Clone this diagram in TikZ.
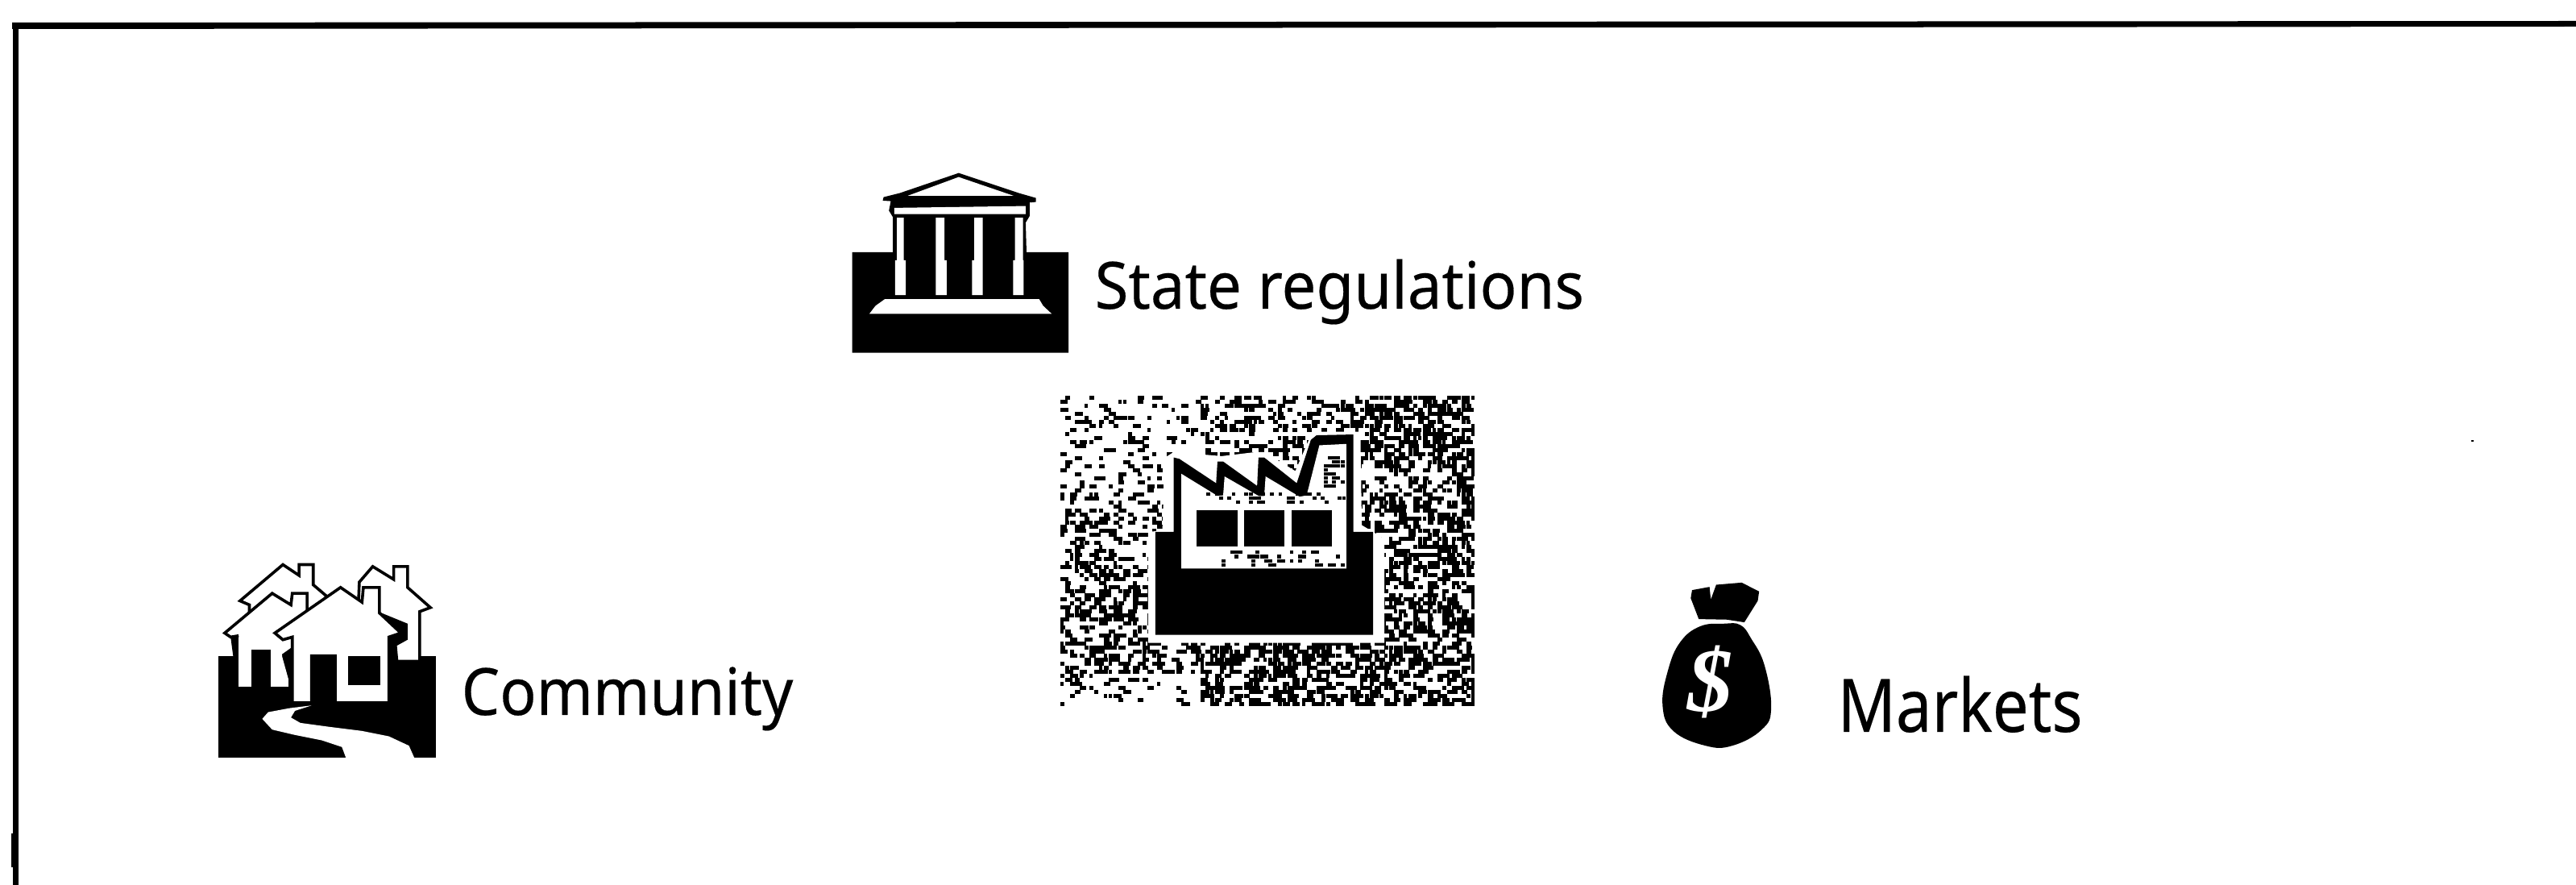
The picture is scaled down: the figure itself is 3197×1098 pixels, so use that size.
\documentclass[tikz,border=0pt]{standalone}
\usepackage{graphicx}
\usepackage{fontspec}
\setmainfont[FakeBold=0.25]{Noto Sans}
\newfontfamily\dollarfont{Liberation Serif}
\tikzset{
  ink/.style={fill=black,draw=none},
  paper/.style={fill=white,draw=none},
  zoomed/.style={x=0.0033333cm,y=-0.0033333cm},
  factoryzoom/.style={x=0.0035075cm,y=-0.0033557cm},
  housewall/.style={fill=white,draw=black,line width=0.036cm,line join=miter},
  label/.style={anchor=base west,inner sep=0pt,text=black}
}
\begin{document}
\begin{tikzpicture}[x=0.01cm,y=-0.01cm]
\useasboundingbox (0,0) rectangle (3197,1098);
\fill[white] (0,0) rectangle (3197,1098);
% frame
\fill[ink] (15,28) -- (3197,26) -- (3197,33) -- (15,36) -- cycle;
\fill[ink] (16,28) rectangle (23,1098);
\fill[ink] (14,1034) rectangle (22,1076);
\fill[ink] (3067,546) rectangle (3070,548);

% temple
\begin{scope}[zoomed,shift={(3060,570)}]
\path[ink] (118,370) -- (270,370) -- (270,240) -- (255,215) -- (262,180) -- (232,178) -- (235,165) -- (295,150) -- (515,75) -- (740,150) -- (803,168) -- (803,183) -- (780,185) -- (780,235) -- (765,260) -- (768,370) -- (925,370) -- (925,745) -- (118,745) -- cycle;
\path[paper] (325,160) -- (515,90) -- (720,160) -- cycle;
\path[paper] (275,205) -- (765,198) -- (765,228) -- (275,228) -- cycle;
\foreach \a/\b/\c/\d in {285/310/278/318,430/462/430/470,573/605/565/605,725/755/718/757}{
  \path[paper] (\a,242) -- (\b,242) -- (\b,400) -- (\d,400) -- (\d,530) -- (\c,530) -- (\c,400) -- (\a,400) -- cycle;
}
\path[paper] (240,545) -- (815,545) -- (830,570) -- (862,600) -- (182,600) -- (205,570) -- cycle;
\end{scope}

% factory noise
\pgfmathsetseed{4242}
\foreach \yy in {0,...,76}{
  \foreach \xx in {0,...,85}{
    \pgfmathsetmacro\px{1316+6*\xx}
    \pgfmathsetmacro\py{491+5*\yy}
    \pgfmathsetmacro\dens{\px<1490 ? (\py<610 ? 0.18 : (\py<700 ? 0.32 : (\py<835 ? 0.45 : 0.14))) : (\px>1700 ? 0.55 : (\py<640 ? 0.42 : 0.58))}
    \pgfmathsetmacro\wd{min(4+rnd*6,1830-\px)}
    \pgfmathparse{rnd<\dens ? 1 : 0}
    \ifnum\pgfmathresult=1
      \fill[ink] (\px,\py) rectangle ++(\wd,4.6);
    \fi
  }
}
\begin{scope}[factoryzoom,shift={(3678,1400)}]
% halo
\path[paper] (380,565) -- (430,560) -- (440,290) -- (470,270) -- (640,285) -- (760,270) -- (790,270) -- (900,340) -- (960,195) -- (1130,195) -- (1135,540) -- (1215,590) -- (1215,975) -- (380,975) -- cycle;
% building
\path[ink] (405,565) -- (470,565) -- (470,290) -- (490,295) -- (620,385) -- (625,305) -- (645,305) -- (765,395) -- (770,290) -- (790,290) -- (905,385) -- (955,225) -- (975,208) -- (1105,205) -- (1105,565) -- (1175,565) -- (1175,945) -- (405,945) -- cycle;
\path[paper] (497,700) -- (497,350) -- (625,432) -- (645,430) -- (650,360) -- (770,432) -- (790,432) -- (795,360) -- (915,435) -- (940,430) -- (985,245) -- (1080,240) -- (1080,700) -- cycle;
\foreach \xa/\xb/\ya/\yb/\dn in {570/1070/420/462/0.3,640/1075/635/690/0.35,1000/1062/285/395/0.6}{
  \pgfmathtruncatemacro\nx{(\xb-\xa)/15}
  \pgfmathtruncatemacro\ny{(\yb-\ya)/15}
  \foreach \i in {0,...,\nx}{
    \foreach \j in {0,...,\ny}{
      \pgfmathparse{rnd<\dn ? 1 : 0}
      \ifnum\pgfmathresult=1
        \fill[ink] ({\xa+15*\i},{\ya+15*\j}) rectangle ++(14,12);
      \fi
    }
  }
}
\path[ink] (552,485) rectangle (695,620);
\path[ink] (720,485) rectangle (862,618);
\path[ink] (888,485) rectangle (1028,620);
\end{scope}

% houses
\begin{scope}[zoomed,shift={(750,2040)}]
\path[ink] (65,405) rectangle (875,785);
\path[housewall] (145,200) -- (305,65) -- (365,105) -- (365,65) -- (418,65) -- (418,140) -- (465,180) -- (465,300) -- (180,300) -- (180,215) -- cycle;
\path[housewall] (590,130) -- (640,72) -- (718,120) -- (718,72) -- (770,72) -- (770,150) -- (855,225) -- (815,240) -- (815,425) -- (730,425) -- (725,370) -- (580,370) -- cycle;
\path[ink] (660,240) -- (770,285) -- (770,345) -- (725,370) -- (730,425) -- (690,425) -- cycle;
\path[ink] (110,335) -- (140,325) -- (140,410) -- (120,410) -- cycle;
\path[ink] (295,345) -- (345,330) -- (345,585) -- (325,585) -- cycle;
\path[paper] (140,405) rectangle (300,520);
\path[fill=white,draw=none] (88,320) -- (265,172) -- (335,215) -- (340,172) -- (395,172) -- (395,240) -- (440,300) -- (300,400) -- (325,490) -- (325,520) -- (260,520) -- (260,382) -- (188,382) -- (188,520) -- (140,520) -- (140,330) -- (110,335) -- cycle;
\draw[line width=0.036cm,line join=miter] (140,330) -- (110,335) -- (88,320) -- (265,172) -- (335,215) -- (340,172) -- (395,172) -- (395,240);
\path[ink] (188,382) rectangle (260,525);
\path[housewall] (275,320) -- (520,150) -- (600,205) -- (605,150) -- (665,150) -- (665,245) -- (745,320) -- (700,335) -- (700,580) -- (500,580) -- (500,405) -- (412,405) -- (412,580) -- (340,580) -- (340,335) -- (305,345) -- cycle;
\path[ink] (412,405) rectangle (500,590);
\path[ink] (548,405) rectangle (668,515);
\path[paper] (412,590) -- (330,600) -- (250,615) -- (228,640) -- (265,680) -- (350,700) -- (450,720) -- (525,745) -- (540,785) -- (795,785) -- (775,740) -- (700,705) -- (600,685) -- (480,670) -- (370,655) -- (335,635) -- (350,610) -- cycle;
\end{scope}

% money bag
\begin{scope}[zoomed,shift={(6090,2130)}]
\fill[ink] plot[smooth cycle,tension=0.7] coordinates {(340,195) (250,205) (175,265) (130,370) (110,500) (150,595) (270,650) (370,650) (480,590) (515,510) (490,350) (440,250) (400,200)};
\path[ink] (220,70) -- (285,58) -- (290,105) -- (310,50) -- (405,42) -- (470,75) -- (465,110) -- (415,190) -- (350,180) -- (245,178) -- (215,100) -- cycle;
\node[inner sep=0pt,text=white] (dollar) at (288,412) {\dollarfont\itshape\bfseries\fontsize{32}{32}\selectfont\$};
\end{scope}

% labels
\node[label,font=\fontsize{23}{26}\selectfont] (state) at (1358,383) {\scalebox{0.94}[1]{State regulations}};
\node[label,font=\fontsize{23}{26}\selectfont] (community) at (572,887) {\scalebox{0.93}[1]{Community}};
\node[label,font=\fontsize{26}{30}\selectfont] (markets) at (2280,908) {\scalebox{0.87}[1]{Markets}};
\end{tikzpicture}
\end{document}
